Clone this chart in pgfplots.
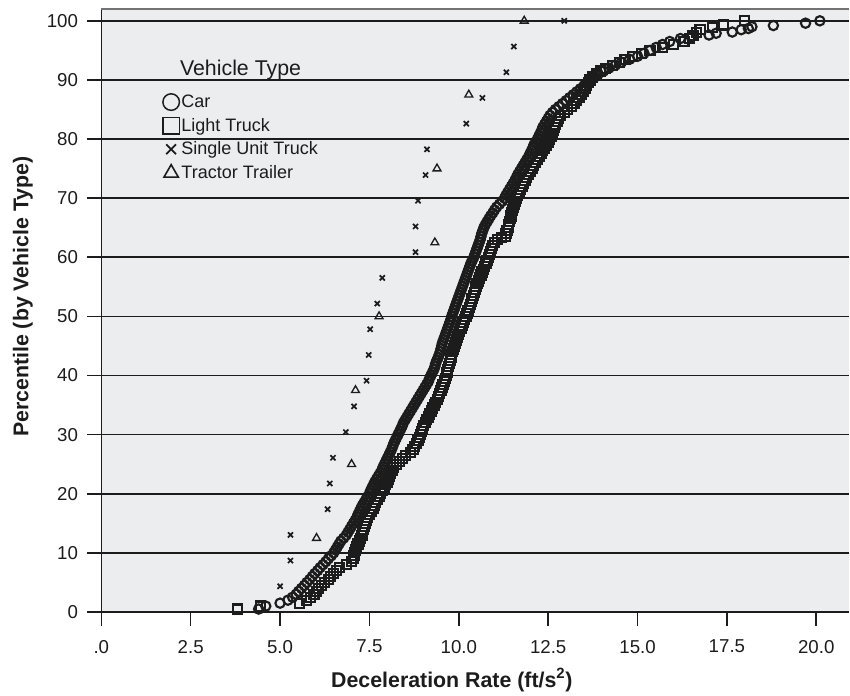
\documentclass[border=0pt]{standalone}
\usepackage{fontspec}
\setmainfont{Liberation Sans}
\usepackage{pgfplots}
\pgfplotsset{compat=1.18}

\definecolor{panel}{RGB}{236,237,239}
\definecolor{ink}{RGB}{28,28,28}

\begin{document}
\begin{tikzpicture}
\path[use as bounding box] (-76pt,-63pt) rectangle (561.5pt,459pt);
\begin{axis}[
    scale only axis,
    width=560.6pt, height=452.25pt,
    xmin=0, xmax=20.91, ymin=0, ymax=102,
    axis lines=left,
    axis line style={-, ink, line width=1.2pt},
    axis background/.style={fill=panel},
    tick align=outside,
    major tick length=10.5pt,
    tick style={ink, line width=1.2pt},
    ymajorgrids,
    grid style={ink, line width=1.2pt},
    xtick={0,2.5,...,20},
    xticklabels={.0,2.5,5.0,7.5,10.0,12.5,15.0,17.5,20.0},
    ytick={0,10,...,100},
    /pgf/number format/assume math mode=true,
    ticklabel style={font=\fontsize{14}{16}\selectfont, text=ink},
    xticklabel style={yshift=-7pt},
    yticklabel style={xshift=-3.5pt},
    xlabel={\textbf{Deceleration Rate (ft/s\textsuperscript{2})}},
    ylabel={\textbf{Percentile (by Vehicle Type)}},
    label style={font=\fontsize{16}{18}\selectfont, text=ink},
    xlabel style={at={(rel axis cs:0.469,0)}, anchor=center, yshift=-51pt},
    ylabel style={at={(rel axis cs:-0.105,0.523)}, anchor=center},
    clip=false,
    legend style={at={(rel axis cs:0.082,0.8615)}, anchor=north west,
        draw=none, fill=none, inner sep=0pt, row sep=3.5pt,
        font=\fontsize{13.5}{15}\selectfont,
        nodes={inner sep=1.5pt, text=ink}},
    legend cell align=left,
    extra description/.code={
        \draw[black!55, line width=1.2pt] (rel axis cs:0,1) -- (rel axis cs:1,1);
        \node[anchor=base west, inner sep=0pt, text=ink, font=\fontsize{16}{18}\selectfont]
            at (rel axis cs:0.105,0.889) {Vehicle Type};
    },
]

% Car
\addplot[only marks, mark=o, mark size=3.5pt, ink, line width=1.6pt,
    legend image post style={mark size=6.2pt, line width=1.1pt}] coordinates {
(4.40,0.5)(4.60,1.0)(5.00,1.5)(5.22,2.0)(5.35,2.5)(5.45,3.0)(5.52,3.5)(5.60,4.0)(5.68,4.5)(5.75,5.0)
(5.83,5.5)(5.90,6.0)(5.97,6.5)(6.05,7.0)(6.12,7.5)(6.20,8.0)(6.28,8.5)(6.35,9.0)(6.43,9.5)(6.50,10.0)
(6.55,10.5)(6.60,11.0)(6.65,11.5)(6.70,12.0)(6.78,12.5)(6.85,13.0)(6.90,13.5)(6.95,14.0)(7.00,14.5)(7.05,15.0)
(7.10,15.5)(7.15,16.0)(7.18,16.5)(7.22,17.0)(7.26,17.5)(7.30,18.0)(7.35,18.5)(7.40,19.0)(7.45,19.5)(7.50,20.0)
(7.53,20.5)(7.57,21.0)(7.61,21.5)(7.65,22.0)(7.70,22.5)(7.75,23.0)(7.80,23.5)(7.85,24.0)(7.88,24.5)(7.92,25.0)
(7.96,25.5)(8.00,26.0)(8.04,26.5)(8.08,27.0)(8.12,27.5)(8.15,28.0)(8.18,28.5)(8.22,29.0)(8.26,29.5)(8.30,30.0)
(8.34,30.5)(8.38,31.0)(8.42,31.5)(8.45,32.0)(8.50,32.5)(8.55,33.0)(8.60,33.5)(8.65,34.0)(8.70,34.5)(8.75,35.0)
(8.80,35.5)(8.85,36.0)(8.90,36.5)(8.95,37.0)(9.00,37.5)(9.05,38.0)(9.10,38.5)(9.15,39.0)(9.18,39.5)(9.22,40.0)
(9.26,40.5)(9.30,41.0)(9.33,41.5)(9.35,42.0)(9.38,42.5)(9.42,43.0)(9.45,43.5)(9.48,44.0)(9.50,44.5)(9.52,45.0)
(9.54,45.5)(9.57,46.0)(9.60,46.5)(9.63,47.0)(9.66,47.5)(9.69,48.0)(9.72,48.5)(9.75,49.0)(9.78,49.5)(9.80,50.0)
(9.83,50.5)(9.86,51.0)(9.89,51.5)(9.92,52.0)(9.95,52.5)(9.98,53.0)(10.01,53.5)(10.04,54.0)(10.07,54.5)(10.10,55.0)
(10.13,55.5)(10.16,56.0)(10.19,56.5)(10.22,57.0)(10.25,57.5)(10.28,58.0)(10.31,58.5)(10.34,59.0)(10.38,59.5)(10.42,60.0)
(10.45,60.5)(10.48,61.0)(10.51,61.5)(10.54,62.0)(10.57,62.5)(10.60,63.0)(10.62,63.5)(10.64,64.0)(10.67,64.5)(10.70,65.0)
(10.74,65.5)(10.79,66.0)(10.84,66.5)(10.89,67.0)(10.95,67.5)(11.00,68.0)(11.06,68.5)(11.14,69.0)(11.22,69.5)(11.28,70.0)
(11.32,70.5)(11.37,71.0)(11.42,71.5)(11.47,72.0)(11.52,72.5)(11.57,73.0)(11.61,73.5)(11.65,74.0)(11.70,74.5)(11.75,75.0)
(11.80,75.5)(11.85,76.0)(11.90,76.5)(11.95,77.0)(11.99,77.5)(12.03,78.0)(12.07,78.5)(12.10,79.0)(12.15,79.5)(12.20,80.0)
(12.24,80.5)(12.28,81.0)(12.32,81.5)(12.35,82.0)(12.40,82.5)(12.45,83.0)(12.50,83.5)(12.55,84.0)(12.62,84.5)(12.70,85.0)
(12.80,85.5)(12.90,86.0)(13.00,86.5)(13.10,87.0)(13.20,87.5)(13.30,88.0)(13.40,88.5)(13.50,89.0)(13.60,89.5)(13.70,90.0)
(13.80,90.5)(13.90,91.0)(14.05,91.5)(14.20,92.0)(14.38,92.5)(14.55,93.0)(14.78,93.5)(15.00,94.0)(15.18,94.5)(15.35,95.0)
(15.52,95.5)(15.70,96.0)(15.90,96.5)(16.20,97.0)(16.50,97.3)(17.00,97.6)(17.20,97.9)(17.65,98.1)(17.90,98.5)(18.10,98.7)
(18.20,99.0)(18.80,99.2)(19.70,99.6)(20.10,100)
};
\addlegendentry{Car}

% Light Truck
\addplot[only marks, mark=square, mark size=3.4pt, ink, line width=1.6pt,
    legend image post style={mark size=6.2pt, line width=1.1pt}] coordinates {
(3.82,0.5)(4.45,1.0)(5.55,1.5)(5.75,2.0)(5.85,2.5)(5.95,3.0)(6.02,3.5)(6.08,4.0)(6.15,4.5)(6.25,5.0)
(6.35,5.5)(6.42,6.0)(6.50,6.5)(6.58,7.0)(6.67,7.5)(6.85,8.0)(7.00,8.5)(7.05,9.0)(7.07,9.5)(7.09,10.0)
(7.10,10.5)(7.13,11.0)(7.18,11.5)(7.23,12.0)(7.26,12.5)(7.29,13.0)(7.31,13.5)(7.34,14.0)(7.36,14.5)(7.38,15.0)
(7.41,15.5)(7.45,16.0)(7.50,16.5)(7.55,17.0)(7.60,17.5)(7.64,18.0)(7.68,18.5)(7.72,19.0)(7.77,19.5)(7.82,20.0)
(7.87,20.5)(7.92,21.0)(7.96,21.5)(8.00,22.0)(8.04,22.5)(8.07,23.0)(8.10,23.5)(8.14,24.0)(8.17,24.5)(8.25,25.0)
(8.33,25.5)(8.42,26.0)(8.52,26.5)(8.65,27.0)(8.72,27.5)(8.77,28.0)(8.82,28.5)(8.86,29.0)(8.90,29.5)(8.93,30.0)
(8.96,30.5)(8.99,31.0)(9.02,31.5)(9.06,32.0)(9.10,32.5)(9.15,33.0)(9.19,33.5)(9.23,34.0)(9.27,34.5)(9.31,35.0)
(9.35,35.5)(9.40,36.0)(9.43,36.5)(9.46,37.0)(9.50,37.5)(9.53,38.0)(9.56,38.5)(9.60,39.0)(9.62,39.5)(9.65,40.0)
(9.67,40.5)(9.69,41.0)(9.71,41.5)(9.74,42.0)(9.76,42.5)(9.78,43.0)(9.80,43.5)(9.83,44.0)(9.85,44.5)(9.88,45.0)
(9.91,45.5)(9.94,46.0)(9.97,46.5)(10.00,47.0)(10.03,47.5)(10.06,48.0)(10.09,48.5)(10.12,49.0)(10.16,49.5)(10.20,50.0)
(10.23,50.5)(10.26,51.0)(10.29,51.5)(10.32,52.0)(10.35,52.5)(10.37,53.0)(10.40,53.5)(10.43,54.0)(10.46,54.5)(10.48,55.0)
(10.51,55.5)(10.55,56.0)(10.58,56.5)(10.62,57.0)(10.65,57.5)(10.69,58.0)(10.72,58.5)(10.76,59.0)(10.79,59.5)(10.82,60.0)
(10.85,60.5)(10.88,61.0)(10.91,61.5)(10.95,62.0)(11.00,62.5)(11.08,63.0)(11.20,63.3)(11.30,63.5)(11.32,64.0)(11.35,64.5)
(11.38,65.0)(11.40,65.5)(11.42,66.0)(11.44,66.5)(11.46,67.0)(11.48,67.5)(11.50,68.0)(11.53,68.5)(11.56,69.0)(11.59,69.5)
(11.62,70.0)(11.65,70.5)(11.69,71.0)(11.73,71.5)(11.77,72.0)(11.81,72.5)(11.85,73.0)(11.90,73.5)(11.95,74.0)(12.00,74.5)
(12.05,75.0)(12.10,75.5)(12.15,76.0)(12.20,76.5)(12.25,77.0)(12.30,77.5)(12.35,78.0)(12.40,78.5)(12.45,79.0)(12.50,79.5)
(12.54,80.0)(12.58,80.5)(12.62,81.0)(12.65,81.5)(12.68,82.0)(12.71,82.5)(12.75,83.0)(12.78,83.5)(12.85,84.0)(12.95,84.5)
(13.05,85.0)(13.15,85.5)(13.22,86.0)(13.30,86.5)(13.36,87.0)(13.42,87.5)(13.48,88.0)(13.53,88.5)(13.58,89.0)(13.62,89.5)
(13.67,90.0)(13.75,90.5)(13.85,91.0)(13.97,91.5)(14.10,92.0)(14.30,92.5)(14.50,93.0)(14.65,93.5)(14.85,94.0)(15.10,94.5)
(15.35,95.0)(15.70,95.5)(16.00,96.0)(16.30,96.5)(16.45,97.0)(16.55,97.5)(16.65,98.0)(16.75,98.5)(17.10,98.9)(17.40,99.3)
(18.00,100)
};
\addlegendentry{Light Truck}

% Single Unit Truck
\addplot[only marks, mark=x, mark size=2.7pt, ink, line width=1.3pt,
    legend image post style={mark size=5.2pt, line width=1.3pt}] coordinates {
(5.00,4.35)(5.29,8.70)(5.29,13.04)(6.33,17.39)(6.39,21.74)(6.48,26.09)(6.84,30.43)(7.07,34.78)
(7.42,39.13)(7.48,43.48)(7.52,47.83)(7.72,52.17)(7.86,56.52)(8.79,60.87)(8.79,65.22)(8.86,69.57)
(9.07,73.91)(9.11,78.26)(10.21,82.61)(10.66,86.96)(11.33,91.30)(11.54,95.65)(12.95,100)
};
\addlegendentry{Single Unit Truck}

% Tractor Trailer
\addplot[only marks, mark=triangle, mark size=3.4pt, ink, line width=1.0pt,
    legend image post style={mark size=6.2pt, line width=1.2pt}] coordinates {
(6.02,12.5)(7.00,25.0)(7.11,37.5)(7.77,50.0)(9.33,62.5)(9.39,75.0)(10.28,87.5)(11.83,100)
};
\addlegendentry{Tractor Trailer}

\end{axis}
\end{tikzpicture}
\end{document}
